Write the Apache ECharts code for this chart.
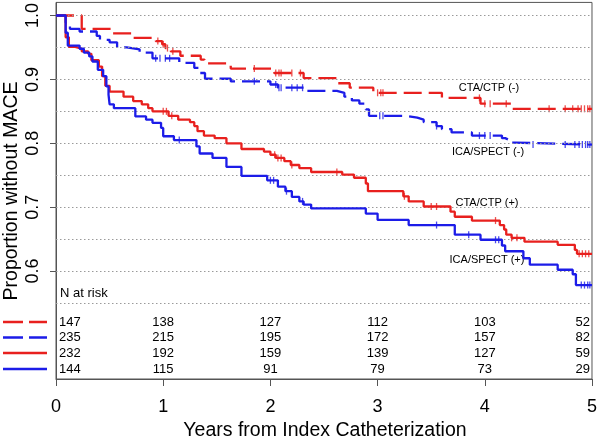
<!DOCTYPE html>
<html><head><meta charset="utf-8">
<script src="https://cdn.jsdelivr.net/npm/echarts@6/dist/echarts.min.js"></script>
<style>html,body{margin:0;padding:0;background:#fff}#c{width:600px;height:441px}</style>
</head><body><div id="c"></div>
<script>
// ---- data ----
const xTicks = [0, 1, 2, 3, 4, 5];
const yTicks = [0.6, 0.7, 0.8, 0.9, 1.0];
const gridVals = [0.55, 0.6, 0.65, 0.7, 0.75, 0.8, 0.85, 0.9, 0.95, 1.0];
const groupNames = ['CTA/CTP (-)', 'ICA/SPECT (-)', 'CTA/CTP (+)', 'ICA/SPECT (+)'];

const ctaNeg = [[0,1.0],[0.24,0.979],[0.51,0.972],[0.71,0.965],[0.93,0.960],[0.99,0.955],[1.02,0.949],[1.07,0.944],[1.16,0.937],[1.35,0.931],[1.385,0.925],[1.63,0.917],[2.035,0.910],[2.31,0.902],[2.62,0.894],[2.74,0.887],[2.96,0.879],[3.6,0.871],[3.96,0.862],[4.25,0.854],[5,0.854]];
const icaNeg = [[0,1.0],[0.09,0.989],[0.13,0.979],[0.22,0.975],[0.38,0.968],[0.41,0.962],[0.50,0.958],[0.57,0.950],[0.66,0.947],[0.78,0.942],[0.90,0.933],[1.15,0.926],[1.29,0.918],[1.33,0.910],[1.39,0.901],[1.63,0.897],[2.0,0.892],[2.07,0.887],[2.31,0.882],[2.62,0.879],[2.69,0.873],[2.76,0.867],[2.83,0.862],[2.89,0.853],[2.92,0.843],[3.26,0.840],[3.37,0.837],[3.43,0.833],[3.55,0.827],[3.6,0.822],[3.69,0.817],[3.88,0.812],[4.16,0.808],[4.19,0.805],[4.23,0.801],[4.28,0.798],[5,0.798]];
const ctaPos = [[0,1.0],[0.09,0.966],[0.12,0.951],[0.18,0.948],[0.24,0.944],[0.30,0.940],[0.33,0.930],[0.40,0.920],[0.43,0.905],[0.46,0.890],[0.50,0.881],[0.63,0.873],[0.72,0.866],[0.80,0.861],[0.86,0.855],[0.90,0.850],[1.05,0.843],[1.14,0.837],[1.25,0.833],[1.29,0.827],[1.32,0.819],[1.38,0.812],[1.48,0.808],[1.59,0.800],[1.73,0.791],[1.94,0.787],[2.0,0.782],[2.05,0.777],[2.13,0.772],[2.19,0.766],[2.27,0.761],[2.38,0.755],[2.67,0.751],[2.78,0.746],[2.89,0.737],[2.91,0.725],[3.24,0.717],[3.29,0.709],[3.43,0.701],[3.68,0.693],[3.72,0.685],[3.88,0.679],[4.14,0.672],[4.18,0.665],[4.2,0.657],[4.25,0.652],[4.37,0.646],[4.68,0.641],[4.84,0.633],[4.86,0.627],[5,0.627]];
const icaPos = [[0,1.0],[0.09,0.973],[0.11,0.953],[0.22,0.948],[0.26,0.942],[0.31,0.936],[0.34,0.928],[0.39,0.915],[0.44,0.905],[0.47,0.889],[0.49,0.876],[0.50,0.861],[0.54,0.855],[0.74,0.842],[0.84,0.837],[0.90,0.832],[0.98,0.824],[1.0,0.811],[1.10,0.805],[1.31,0.795],[1.34,0.784],[1.46,0.777],[1.59,0.763],[1.73,0.749],[1.97,0.742],[2.07,0.732],[2.14,0.725],[2.2,0.716],[2.27,0.709],[2.31,0.704],[2.38,0.698],[2.89,0.690],[3.0,0.680],[3.29,0.672],[3.72,0.657],[3.96,0.649],[4.16,0.640],[4.19,0.631],[4.36,0.620],[4.42,0.610],[4.68,0.602],[4.82,0.595],[4.85,0.578],[5,0.578]];

const censorCtaNeg = [0.95,1.0,1.04,1.09,1.85,2.05,2.08,2.1,2.2,2.28,3.0,3.03,3.05,3.95,4.0,4.05,4.2,4.6,4.75,4.82,4.87,4.9,4.93,4.96,4.98];
const censorIcaNeg = [0.93,0.97,1.02,1.06,1.85,2.05,2.08,2.1,2.2,2.25,2.3,3.02,3.05,3.55,3.95,4.0,4.05,4.45,4.75,4.84,4.88,4.91,4.94,4.96,4.98];
const censorCtaPos = [1.0,1.03,1.08,2.04,2.07,2.1,2.2,2.62,3.25,3.5,3.55,4.1,4.25,4.3,4.88,4.91,4.94,4.97];
const censorIcaPos = [1.15,2.0,2.03,2.15,2.3,3.55,3.85,4.1,4.13,4.9,4.93,4.96,4.98];

const riskTimes = [0, 1, 2, 3, 4, 5];
const riskCtaNeg = [147, 138, 127, 112, 103, 52];
const riskIcaNeg = [235, 215, 195, 172, 157, 82];
const riskCtaPos = [232, 192, 159, 139, 127, 59];
const riskIcaPos = [144, 115, 91, 79, 73, 29];

const xTitle = 'Years from Index Catheterization';
const yTitle = 'Proportion without MACE';
const riskTitle = 'N at risk';

// ---- styling ----
const RED = '#e8201e', BLUE = '#1c1ce8';
const FONT = '"Liberation Sans", Arial, Helvetica, sans-serif';
const DASH = [18, 7];

function survAt(curve, t) {
  let v = curve[0][1];
  for (const p of curve) { if (p[0] <= t) v = p[1]; else break; }
  return v;
}

const curves = [
  {name: groupNames[0], data: ctaNeg, color: RED, dash: true, censor: censorCtaNeg, risk: riskCtaNeg},
  {name: groupNames[1], data: icaNeg, color: BLUE, dash: true, censor: censorIcaNeg, risk: riskIcaNeg},
  {name: groupNames[2], data: ctaPos, color: RED, dash: false, censor: censorCtaPos, risk: riskCtaPos},
  {name: groupNames[3], data: icaPos, color: BLUE, dash: false, censor: censorIcaPos, risk: riskIcaPos}
];

const series = [{
  type: 'line', data: [], silent: true, z: 1,
  markLine: {
    silent: true, symbol: ['none', 'none'], animation: false,
    label: {show: false},
    lineStyle: {type: [1.5, 2.5], color: '#9a9a9a', width: 1},
    data: gridVals.map(v => ({yAxis: v}))
  }
}];
curves.forEach((c, i) => {
  series.push({
    type: 'line', name: c.name, step: 'end', data: c.data, showSymbol: false, symbol: 'none',
    z: 3 + i, animation: false,
    lineStyle: {color: c.color, width: 2.3, type: c.dash ? DASH : 'solid'}
  });
  series.push({
    type: 'scatter', data: c.censor.map(t => [t, survAt(c.data, t)]),
    symbol: 'rect', symbolSize: [1.3, 7], z: 3 + i, animation: false,
    itemStyle: {color: c.color}
  });
});

const chart = echarts.init(document.getElementById('c'), null, {renderer: 'canvas'});
chart.setOption({
  animation: false,
  backgroundColor: '#fff',
  grid: {left: 56, right: 6, top: 2, bottom: 62, show: true, borderColor: '#555', borderWidth: 1},
  xAxis: {
    type: 'value', min: 0, max: 5, interval: 1,
    axisLine: {show: true, lineStyle: {color: '#555', width: 1}},
    axisTick: {show: true, length: 7, lineStyle: {color: '#555'}},
    axisLabel: {fontSize: 18, color: '#000', margin: 19, fontFamily: FONT},
    splitLine: {show: false}
  },
  yAxis: {
    type: 'value', min: 0.431, max: 1.0205,
    axisLine: {show: true, lineStyle: {color: '#555', width: 1}},
    axisTick: {show: true, length: 6, customValues: yTicks, lineStyle: {color: '#555'}},
    axisLabel: {customValues: yTicks, rotate: 90, fontSize: 18, color: '#000', margin: 14, fontFamily: FONT,
      formatter: v => Number(v).toFixed(1)},
    splitLine: {show: false}
  },
  series: series
});

// ---- annotations and number-at-risk table ----
const rowY = [322, 337.5, 353, 369];
const g = [];
g.push({type: 'text', x: 325, y: 431, style: {text: xTitle, font: '19.5px ' + FONT, fill: '#000', align: 'center', verticalAlign: 'middle'}});
g.push({type: 'text', x: 12, y: 191, rotation: Math.PI / 2, style: {text: yTitle, font: '19.5px ' + FONT, fill: '#000', align: 'center', verticalAlign: 'middle'}});
g.push({type: 'text', x: 60, y: 293, style: {text: riskTitle, font: '13px ' + FONT, fill: '#000', align: 'left', verticalAlign: 'middle'}});

const labelPos = [[489, 88], [488, 152], [487, 203], [487, 260]];
curves.forEach((c, i) => {
  g.push({type: 'text', x: labelPos[i][0], y: labelPos[i][1], style: {text: c.name, font: '11px ' + FONT, fill: '#000', align: 'center', verticalAlign: 'middle'}});
  g.push({type: 'line', shape: {x1: 3, y1: rowY[i], x2: 47, y2: rowY[i]}, style: {stroke: c.color, lineWidth: 2.5, lineDash: c.dash ? [20, 6] : null}});
  riskTimes.forEach((t, j) => {
    const px = chart.convertToPixel({xAxisIndex: 0}, t);
    let align = 'center', x = px;
    if (j === 0) { align = 'left'; x = px + 3; }
    if (j === riskTimes.length - 1) { align = 'right'; x = px - 2; }
    g.push({type: 'text', x: x, y: rowY[i], style: {text: String(c.risk[j]), font: '13px ' + FONT, fill: '#000', align: align, verticalAlign: 'middle'}});
  });
});
chart.setOption({graphic: g});
</script>
</body></html>
